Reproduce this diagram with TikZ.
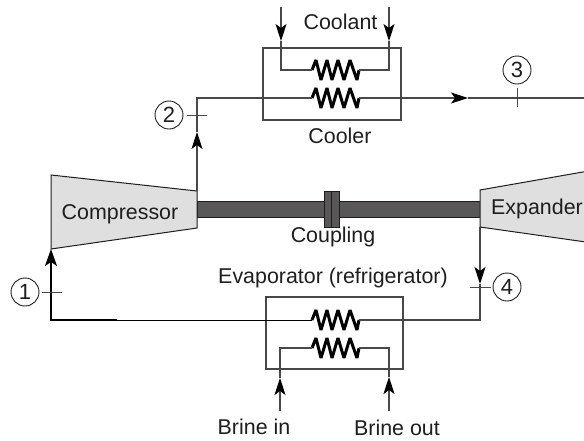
\documentclass[tikz,border=0pt]{standalone}
\usepackage{fontspec}
\setmainfont{Liberation Sans}
\usetikzlibrary{arrows.meta}
\definecolor{ink}{HTML}{1E1E1E}
\definecolor{pipegray}{HTML}{484848}
\definecolor{machine}{HTML}{DEDFDE}
\definecolor{shaftgray}{HTML}{595757}
\tikzset{
  x=1pt,y=-1pt,
  pipe/.style={draw=pipegray,line width=1.1pt},
  flow/.style={pipe,-{Stealth[length=17pt,width=11pt,inset=4pt,color=black]}},
  boxline/.style={draw=pipegray,line width=1.1pt},
  machinebody/.style={draw=ink,line width=1pt,fill=machine},
  shaftbar/.style={draw=ink,line width=0.5pt,fill=shaftgray},
  label/.style={font=\fontsize{21.4}{25}\selectfont,text=ink,anchor=base,inner sep=0pt},
  statept/.style={circle,draw=ink,line width=0.9pt,minimum size=28pt,inner sep=0pt,font=\fontsize{22}{26}\selectfont,text=ink},
  tick/.style={draw=pipegray,line width=0.9pt},
  coil/.pic={
    \draw[line width=3pt,black,line join=miter,miter limit=3]
      (-23,0) -- (-19,-10) -- (-14,10) -- (-8,-10) -- (-3,10) -- (3,-10)
      -- (9,10) -- (15,-10) -- (22,10) -- (24,0);
    \coordinate (-l) at (-23,0);
    \coordinate (-r) at (24,0);
  }
}
\begin{document}
\begin{tikzpicture}
\useasboundingbox (0,0) rectangle (584,440);

% shaft and coupling
\node[shaftbar,minimum width=283pt,minimum height=16pt,inner sep=0pt] (shaft) at (338.5,209) {};
\node[shaftbar,minimum width=15pt,minimum height=36pt,inner sep=0pt] (coupling) at (331.5,209) {};
\draw[ink,line width=0.7pt] (coupling.north) -- (coupling.south);

% machines
\draw[machinebody] (51,175) coordinate (cnw) -- (197,191) coordinate (cne)
  -- (197,228) coordinate (cse) -- (51,249) coordinate (csw) -- cycle;
\begin{scope}
\clip (0,0) rectangle (584,440);
\draw[machinebody] (600,169) -- (480,190) coordinate (enw)
  -- (480,227) coordinate (esw) -- (600,244);
\end{scope}

% exchanger boxes
\node[boxline,minimum width=138pt,minimum height=72pt,inner sep=0pt] (cooler) at (332,84) {};
\node[boxline,minimum width=137pt,minimum height=72pt,inner sep=0pt] (evap) at (334.5,333) {};

% coils
\pic (cu) at (335,70) {coil};
\pic (cl) at (335,98) {coil};
\pic (eu) at (335,320) {coil};
\pic (el) at (335,348) {coil};

% named route points
\coordinate (coolInL) at (281,7);
\coordinate (coolTipL) at (281,41);
\coordinate (coolCornL) at (281,70);
\coordinate (coolInR) at (389,7);
\coordinate (coolTipR) at (389,41);
\coordinate (coolCornR) at (389,70);
\coordinate (twoCorner) at (197,98);
\coordinate (twoTip) at (197,132);
\coordinate (hiTip) at (468,98);
\coordinate (hiEnd) at (584,98);
\coordinate (fourTip) at (480,284);
\coordinate (lowCorner) at (480,320);
\coordinate (oneCorner) at (51,320);
\coordinate (oneThick) at (117,320);
\coordinate (brineBaseL) at (280,411);
\coordinate (brineTipL) at (280,378);
\coordinate (brineCornL) at (280,348);
\coordinate (brineBaseR) at (389,411);
\coordinate (brineTipR) at (389,377);
\coordinate (brineCornR) at (389,348);

% coolant circuit
\draw[flow] (coolInL) -- (coolTipL);
\draw[pipe,line join=miter] (coolTipL) -- (coolCornL) -- (cu-l);
\draw[flow] (coolInR) -- (coolTipR);
\draw[pipe,line join=miter] (coolTipR) -- (coolCornR) -- (cu-r);

% main loop
\draw[flow] (cne) -- (twoTip);
\draw[pipe,line join=miter] (twoTip) -- (twoCorner) -- (cl-l);
\draw[flow] (cl-r) -- (hiTip);
\draw[pipe] (hiTip) -- (hiEnd);
\draw[flow] (esw) -- (fourTip);
\draw[pipe,line join=miter] (fourTip) -- (lowCorner) -- (eu-r);
\draw[draw=black,line width=0.9pt] (eu-l) -- (oneThick);
\draw[draw=black,line width=1.6pt,line join=miter,-{Stealth[length=17pt,width=12pt,inset=4pt]}] (oneThick) -- (oneCorner) -- (csw);

% brine circuit
\draw[flow] (brineBaseL) -- (brineTipL);
\draw[pipe,line join=miter] (brineTipL) -- (brineCornL) -- (el-l);
\draw[flow] (brineBaseR) -- (brineTipR);
\draw[pipe,line join=miter] (brineTipR) -- (brineCornR) -- (el-r);

% state points
\node[statept] (s1) at (25,292) {1};
\node[statept] (s2) at (169,115) {2};
\node[statept] (s3) at (517,70) {3};
\node[statept] (s4) at (507,287) {4};
\coordinate (t1a) at (42,292); \coordinate (t1b) at (62,292);
\coordinate (t2a) at (187,115); \coordinate (t2b) at (207,115);
\coordinate (t3a) at (517,88); \coordinate (t3b) at (517,107);
\coordinate (t4a) at (470,287); \coordinate (t4b) at (491,287);
\draw[tick] (t1a) -- (t1b);
\draw[tick] (t2a) -- (t2b);
\draw[tick] (t3a) -- (t3b);
\draw[tick] (t4a) -- (t4b);

% labels
\node[label] (lcoolant) at (340.5,29) {Coolant};
\node[label] (lcooler) at (340,143) {Cooler};
\node[label] (lcoupling) at (333,242) {Coupling};
\node[label] (levap) at (333,283) {Evaporator (refrigerator)};
\node[label] (lbrinein) at (254,434) {Brine in};
\node[label] (lbrineout) at (397,435.5) {Brine out};
\node[label] (lcomp) at (120,219) {Compressor};
\node[label] (lexp) at (537,214) {Expander};
\end{tikzpicture}
\end{document}
